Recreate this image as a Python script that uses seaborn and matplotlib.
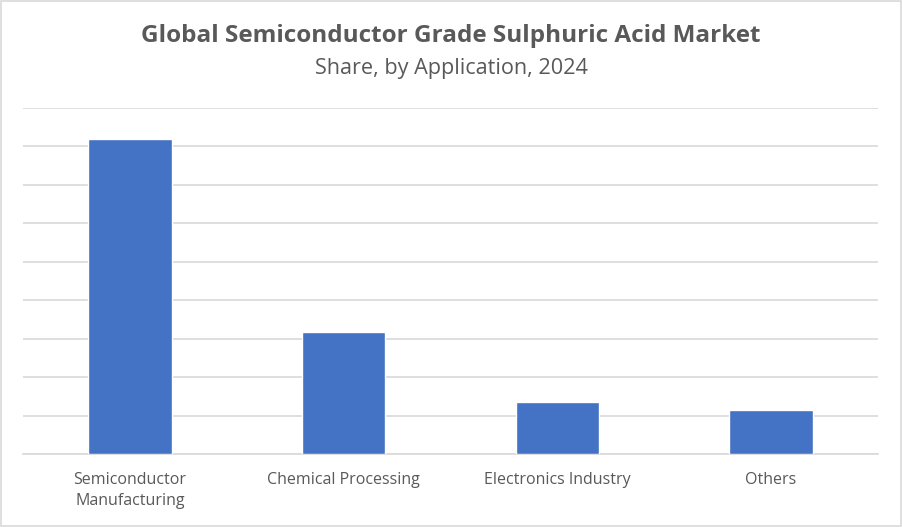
import matplotlib
matplotlib.use("Agg")
import matplotlib.pyplot as plt
import seaborn as sns
import pandas as pd

applications = ["Semiconductor\nManufacturing", "Chemical Processing",
                "Electronics Industry", "Others"]
share = [82.0, 31.8, 13.6, 11.5]

df = pd.DataFrame({"Application": applications, "Share": share})

sns.set_theme(style="white")
plt.rcParams['font.family'] = ['Open Sans', 'DejaVu Sans']

fig = plt.figure(figsize=(9.02, 5.27), dpi=100)
ax = fig.add_axes([23/902, 73/527, 855/902, 346/527])

sns.barplot(data=df, x="Application", y="Share", color="#4472C4",
            width=0.39, saturation=1, ax=ax, zorder=3)

ax.set_ylim(0, 90)
ax.set_xlim(-0.5, 3.5)
ax.set_yticks(range(0, 91, 10))
ax.yaxis.grid(True, color="#D9D9D9", linewidth=1.2, zorder=0)
ax.set_yticklabels([])
ax.tick_params(axis="y", length=0)
ax.set_xlabel("")
ax.set_ylabel("")

ax.set_xticks(range(len(applications)))
ax.set_xticklabels(applications, linespacing=1.4)
ax.set_xticks([-0.5, 0.5, 1.5, 2.5, 3.5], minor=True)
ax.tick_params(axis="x", which="minor", length=5, color="#D9D9D9", width=1.2)
ax.tick_params(axis="x", which="major", length=0, pad=13,
               labelsize=11.5, labelcolor="#595959")
for s in ["top", "left", "right"]:
    ax.spines[s].set_visible(False)
ax.spines["bottom"].set_color("#D9D9D9")
ax.spines["bottom"].set_linewidth(1.2)

fig.text(0.5, 1 - 36/527, "Global Semiconductor Grade Sulphuric Acid Market",
         ha="center", va="center", fontsize=17.5, fontweight="bold",
         color="#595959")
fig.text(0.5, 1 - 69/527, "Share, by Application, 2024", ha="center",
         va="center", fontsize=15.6, color="#595959")

fig.patches.append(plt.Rectangle((0.001, 0.001), 0.998, 0.997,
                                 transform=fig.transFigure, fill=False,
                                 edgecolor="#D9D9D9", linewidth=1.2))

fig.savefig("out.png", dpi=100)
